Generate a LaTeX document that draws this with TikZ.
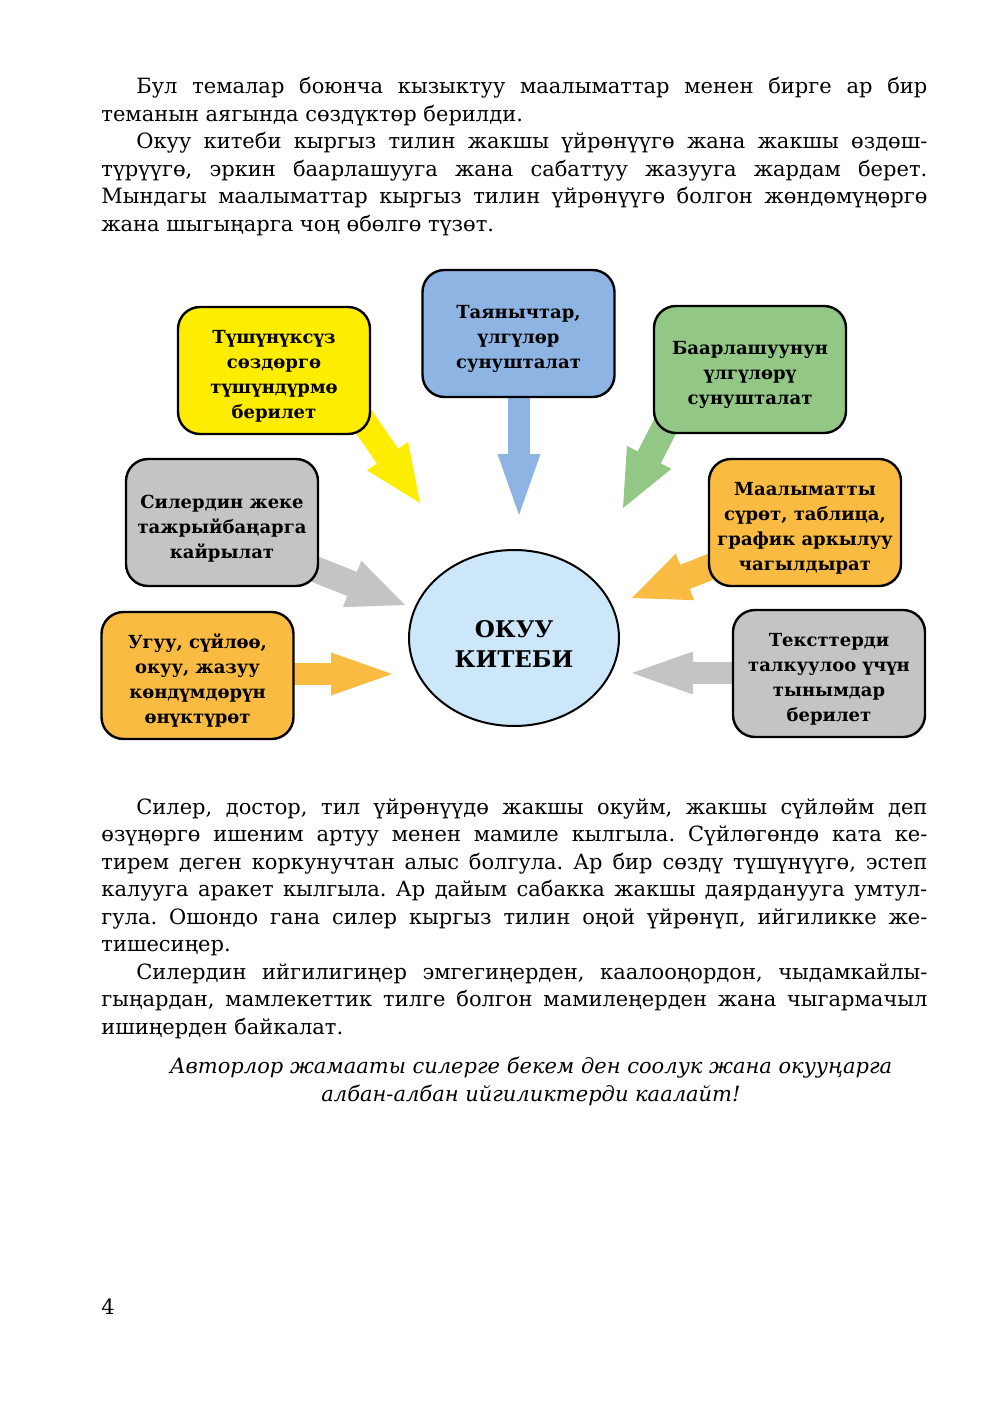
\documentclass[tikz,border=0pt]{standalone}
\usepackage{fontspec}
\setmainfont{DejaVu Serif}
\usetikzlibrary{arrows.meta,shapes.geometric}
\definecolor{cyellow}{HTML}{FFED00}
\definecolor{cblue}{HTML}{8DB4E2}
\definecolor{cgreen}{HTML}{92C786}
\definecolor{corange}{HTML}{F9BB41}
\definecolor{cgray}{HTML}{C4C4C4}
\definecolor{cell}{HTML}{CCE7FA}
\hyphenpenalty=10000
\tolerance=9999
\frenchspacing
\newcommand{\topstrut}{\rule{0pt}{12.4pt}}
\newcommand{\bigstrut}{\rule{0pt}{14pt}}
\begin{document}
\begin{tikzpicture}[x=0.5pt,y=-0.5pt,
 infobox/.style={draw=black, line width=1.2pt, rounded corners=11pt, minimum width=96pt, minimum height=63.5pt, align=center, fill=#1, font=\fontsize{9pt}{12.5pt}\selectfont\bfseries, inner sep=1pt},
 diagarrow/.style={draw=#1, line width=13pt, -{Triangle[length=28.5pt,width=25pt,line width=0pt]}},
 straightarrow/.style={draw=#1, line width=11pt, -{Triangle[length=30.5pt,width=21.5pt,line width=0pt]}},
 body/.style={anchor=base west, inner sep=0pt, text width=413pt, align=justify, font=\fontsize{10.5pt}{13.75pt}\selectfont}
]
\fill[white] (0,0) rectangle (1004,1417);
\useasboundingbox (0,0) rectangle (1004,1417);

% body text
\node[body] (p1) at (101,94) {\hspace*{17.5pt}Бул темалар боюнча кызыктуу маалыматтар менен бирге ар бир\linebreak теманын аягында сөздүктөр берилди.};
\node[body] (p2) at (101,149) {\hspace*{17.5pt}Окуу китеби кыргыз тилин жакшы үйрөнүүгө жана жакшы өздөш-\linebreak түрүүгө, эркин баарлашууга жана сабаттуу жазууга жардам берет.\linebreak Мындагы маалыматтар кыргыз тилин үйрөнүүгө болгон жөндөмүңөргө\linebreak жана шыгыңарга чоң өбөлгө түзөт.};

% arrows
\coordinate (ys) at (355,409); \coordinate (yt) at (420,503);
\coordinate (bs) at (519,390); \coordinate (bt) at (519,515);
\coordinate (gs) at (669,419); \coordinate (gt) at (623,508);
\coordinate (ls) at (312,568); \coordinate (lt) at (405,605);
\coordinate (rs) at (720,563); \coordinate (rt) at (632,598);
\coordinate (os) at (285,674); \coordinate (ot) at (392,674);
\coordinate (ts) at (742,673); \coordinate (tt) at (632,673);
\draw[diagarrow=cyellow] (ys) -- (yt);
\draw[straightarrow=cblue] (bs) -- (bt);
\draw[diagarrow=cgreen] (gs) -- (gt);
\draw[diagarrow=cgray] (ls) -- (lt);
\draw[diagarrow=corange] (rs) -- (rt);
\draw[straightarrow=corange] (os) -- (ot);
\draw[straightarrow=cgray] (ts) -- (tt);

% boxes
\node[infobox=cyellow] (yellow) at (274,370.5) {\topstrut Түшүнүксүз\\сөздөргө\\түшүндүрмө\\берилет};
\node[infobox=cblue] (blue) at (518.5,333.5) {\topstrut Таянычтар,\\үлгүлөр\\сунушталат};
\node[infobox=cgreen] (green) at (750,369.5) {\topstrut Баарлашуунун\\үлгүлөрү\\сунушталат};
\node[infobox=cgray] (grayL) at (222,522.5) {\topstrut Силердин жеке\\тажрыйбаңарга\\кайрылат};
\node[infobox=corange] (orangeR) at (805,522.5) {\topstrut Маалыматты\\сүрөт, таблица,\\график аркылуу\\чагылдырат};
\node[infobox=corange] (orangeL) at (197.5,675.5) {\topstrut Угуу, сүйлөө,\\окуу, жазуу\\көндүмдөрүн\\өнүктүрөт};
\node[infobox=cgray] (grayR) at (829,673.5) {\topstrut Тексттерди\\талкуулоо үчүн\\тынымдар\\берилет};
\node[ellipse, draw=black, line width=1pt, fill=cell, minimum width=105pt, minimum height=88pt, inner sep=0pt, align=center, font=\fontsize{11.5pt}{15pt}\selectfont\bfseries] (book) at (514,638) {\bigstrut ОКУУ\\КИТЕБИ};

% lower text
\node[body] (p3) at (101,814) {\hspace*{17.5pt}Силер, достор, тил үйрөнүүдө жакшы окуйм, жакшы сүйлөйм деп\linebreak өзүңөргө ишеним артуу менен мамиле кылгыла. Сүйлөгөндө ката ке-\linebreak тирем деген коркунучтан алыс болгула. Ар бир сөздү түшүнүүгө, эстеп\linebreak калууга аракет кылгыла. Ар дайым сабакка жакшы даярданууга умтул-\linebreak гула. Ошондо гана силер кыргыз тилин оңой үйрөнүп, ийгиликке же-\linebreak тишесиңер.};
\node[body] (p4) at (101,979) {\hspace*{17.5pt}Силердин ийгилигиңер эмгегиңерден, каалооңордон, чыдамкайлы-\linebreak гыңардан, мамлекеттик тилге болгон мамилеңерден жана чыгармачыл\linebreak ишиңерден байкалат.};
\node[anchor=base, inner sep=0pt, align=center, font=\fontsize{10.5pt}{13.75pt}\selectfont\itshape] (sign) at (531,1101) {Авторлор жамааты силерге бекем ден соолук жана окууңарга\\албан-албан ийгиликтерди каалайт!};
\node[anchor=base west, inner sep=0pt, font=\fontsize{10.5pt}{13pt}\selectfont] (page) at (101,1314) {4};
\end{tikzpicture}
\end{document}
